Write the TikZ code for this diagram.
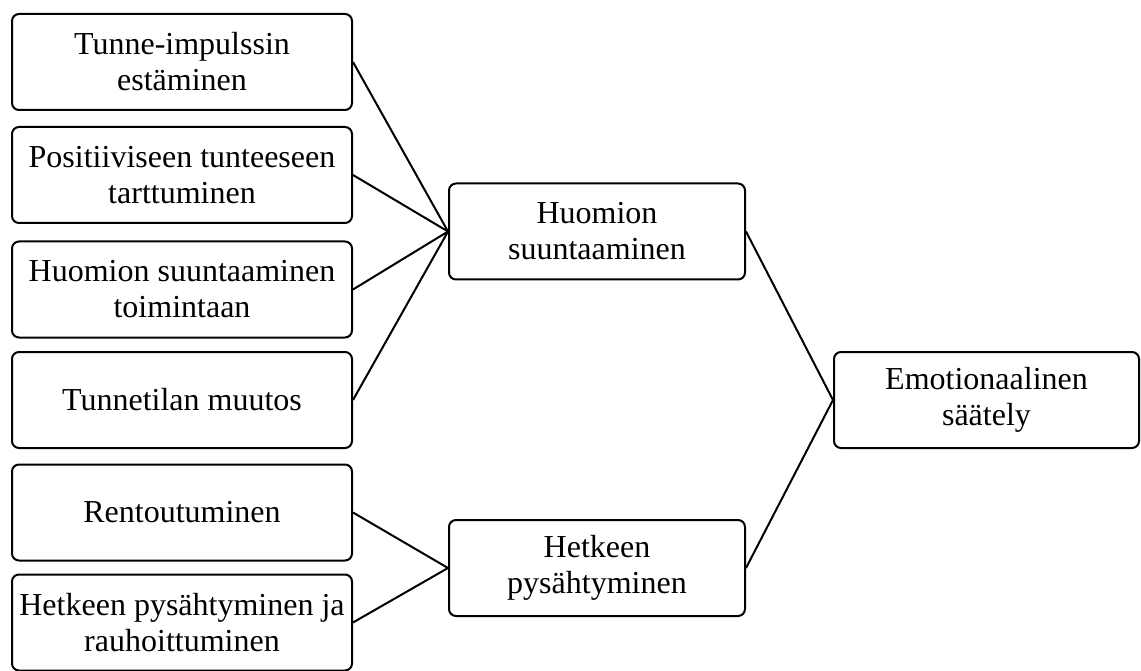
\documentclass[tikz,border=0pt]{standalone}
\usepackage{fontspec}
\setmainfont{Liberation Serif}
\begin{document}
\begin{tikzpicture}[x=1pt,y=-1pt,
  box/.style={draw=black, line width=2pt, rounded corners=7pt, align=center, inner sep=0pt,
    font=\fontsize{32}{36}\selectfont},
  lbox/.style={box, minimum width=340pt, minimum height=96pt},
  mbox/.style={box, minimum width=296pt, minimum height=96pt},
  link/.style={draw=black, line width=2pt}]
\useasboundingbox (0,0) rectangle (1141,671);
\node[lbox] (b1) at (182,62) {Tunne-impulssin\\estäminen};
\node[lbox] (b2) at (182,175) {Positiiviseen tunteeseen\\tarttuminen};
\node[lbox] (b3) at (182,289.5) {Huomion suuntaaminen\\toimintaan};
\node[lbox] (b4) at (182,400) {Tunnetilan muutos};
\node[lbox] (b5) at (182,512.5) {Rentoutuminen};
\node[lbox] (b6) at (182,622.5) {Hetkeen pysähtyminen ja\\rauhoittuminen};
\node[mbox] (m1) at (597,231.5) {Huomion\\suuntaaminen};
\node[mbox] (m2) at (597,568) {Hetkeen\\pysähtyminen};
\node[box, minimum width=305pt, minimum height=96pt] (r) at (986.5,400) {Emotionaalinen\\säätely};
\foreach \b in {b1,b2,b3,b4} \path[link] (\b.east) -- (m1.west);
\foreach \b in {b5,b6} \path[link] (\b.east) -- (m2.west);
\path[link] (m1.east) -- (r.west);
\path[link] (m2.east) -- (r.west);
\end{tikzpicture}
\end{document}
